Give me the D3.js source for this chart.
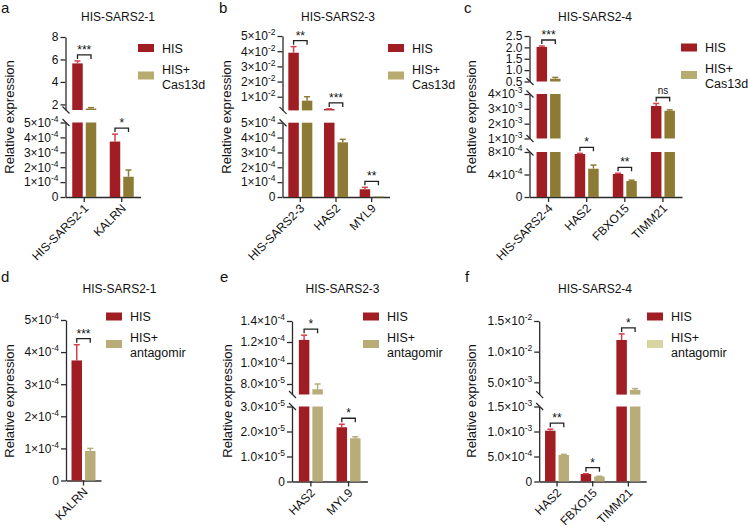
<!DOCTYPE html>
<html><head><meta charset="utf-8">
<script src="https://cdn.jsdelivr.net/npm/d3@7"></script>
<style>body{margin:0;background:#fff}</style>
</head><body>
<svg id="c" width="748" height="531"></svg>
<script>
// ---------------- DATA ----------------
const panelLetters = ["a","b","c","d","e","f"];
const panelTitles = ["HIS-SARS2-1","HIS-SARS2-3","HIS-SARS2-4","HIS-SARS2-1","HIS-SARS2-3","HIS-SARS2-4"];
const seriesNames = ["HIS", "HIS+", "Cas13d", "antagomir"];

// panel a
const catsA = ["HIS-SARS2-1","KALRN"];
const hisA = [5.65, 3.72e-4];
const hisErrA = [0.22, 0.5e-4];
const trtA = [1.63, 1.36e-4];
const trtErrA = [0.08, 0.45e-4];
const sigA = ["***","*"];
const domA = [[0,5e-4],[1.5,8]];
const ticksA = [[0,1e-4,2e-4,3e-4,4e-4,5e-4],[2,4,6,8]];
const tickLabelsA = [["0","1×10^-4","2×10^-4","3×10^-4","4×10^-4","5×10^-4"],["2","4","6","8"]];

// panel b
const catsB = ["HIS-SARS2-3","HAS2","MYL9"];
const hisB = [0.039, 0.0019, 0.52e-4];
const hisErrB = [0.004, 0.0001, 0.13e-4];
const trtB = [0.0074, 3.68e-4, 0.03e-4];
const trtErrB = [0.0026, 0.2e-4, 0];
const sigB = ["**","***","**"];
const domB = [[0,5e-4],[0.001,0.05]];
const ticksB = [[0,1e-4,2e-4,3e-4,4e-4,5e-4],[0.01,0.02,0.03,0.04,0.05]];
const tickLabelsB = [["0","1×10^-4","2×10^-4","3×10^-4","4×10^-4","5×10^-4"],["1×10^-2","2×10^-2","3×10^-2","4×10^-2","5×10^-2"]];

// panel c
const catsC = ["HIS-SARS2-4","HAS2","FBXO15","TIMM21"];
const hisC = [2.02, 7.64e-4, 4.09e-4, 3.19e-3];
const hisErrC = [0.04, 0.12e-4, 0.12e-4, 0.17e-3];
const trtC = [0.62, 5.03e-4, 2.84e-4, 2.87e-3];
const trtErrC = [0.06, 0.65e-4, 0.15e-4, 0.06e-3];
const sigC = ["***","*","**","ns"];
const domC = [[0,8e-4],[1e-3,4e-3],[0.5,2.5]];
const ticksC = [[0,4e-4,8e-4],[1e-3,2e-3,3e-3,4e-3],[0.5,1.0,1.5,2.0,2.5]];
const tickLabelsC = [["0","4×10^-4","8×10^-4"],["1×10^-3","2×10^-3","3×10^-3","4×10^-3"],["0.5","1.0","1.5","2.0","2.5"]];

// panel d
const catsD = ["KALRN"];
const hisD = [3.74e-4];
const hisErrD = [0.49e-4];
const trtD = [0.92e-4];
const trtErrD = [0.08e-4];
const sigD = ["***"];
const domD = [[0,5e-4]];
const ticksD = [[0,1e-4,2e-4,3e-4,4e-4,5e-4]];
const tickLabelsD = [["0","1×10^-4","2×10^-4","3×10^-4","4×10^-4","5×10^-4"]];

// panel e
const catsE = ["HAS2","MYL9"];
const hisE = [1.22e-4, 2.17e-5];
const hisErrE = [0.045e-4, 0.12e-5];
const trtE = [7.5e-5, 1.73e-5];
const trtErrE = [0.5e-5, 0.06e-5];
const sigE = ["*","*"];
const domE = [[0,3e-5],[7e-5,1.4e-4]];
const ticksE = [[0,1e-5,2e-5,3e-5],[8e-5,1.0e-4,1.2e-4,1.4e-4]];
const tickLabelsE = [["0","1.0×10^-5","2.0×10^-5","3.0×10^-5"],["8.0×10^-5","1.0×10^-4","1.2×10^-4","1.4×10^-4"]];

// panel f
const catsF = ["HAS2","FBXO15","TIMM21"];
const hisF = [1.016e-3, 1.5e-4, 1.19e-2];
const hisErrF = [0.03e-3, 0.06e-4, 0.1e-2];
const trtF = [5.3e-4, 1.0e-4, 3.75e-3];
const trtErrF = [0.12e-4, 0.05e-4, 0.22e-3];
const sigF = ["**","*","*"];
const domF = [[0,1.5e-3],[3e-3,1.5e-2]];
const ticksF = [[0,5e-4,1e-3,1.5e-3],[5e-3,1e-2,1.5e-2]];
const tickLabelsF = [["0","5.0×10^-4","1.0×10^-3","1.5×10^-3"],["5.0×10^-3","1.0×10^-2","1.5×10^-2"]];

// ---------------- STYLE ----------------
const FONT = "'Liberation Sans', Arial, Helvetica, sans-serif";
const AX = "#2b2b2b";
const RED = "#A11D24", RED_ERR = "#D5404C";
const OLIVE = "#8D7B35", OLIVE_LEG = "#B7AC6F";
const KHAKI = "#B8AC79", KHAKI_LEG = "#B8AC79", KHAKI_LEG_F = "#D8D5A2";

const svg = d3.select("#c");

function drawPanel(p) {
  const g = svg.append("g");
  g.append("text").attr("x", p.letterPos[0]).attr("y", p.letterPos[1])
    .attr("font-family", FONT).attr("font-size", 15).attr("fill", "#111").text(p.letter);
  g.append("text").attr("x", p.titlePos[0]).attr("y", p.titlePos[1]).attr("text-anchor","middle")
    .attr("font-family", FONT).attr("font-size", 12).attr("fill", "#111").text(p.title);
  g.append("text").attr("transform", `translate(${p.yTitlePos[0]},${p.yTitlePos[1]}) rotate(-90)`)
    .attr("text-anchor","middle").attr("font-family", FONT).attr("font-size", 13).attr("fill","#111")
    .text("Relative expression");

  const x = d3.scaleBand().domain(p.cats).range(p.xRange);
  const cx = c => x(c) + x.bandwidth()/2;
  const segs = p.doms.map((d,i) => ({
    lo: d[0], hi: d[1],
    y: d3.scaleLinear().domain(d).range(p.yRanges[i]),
    ticks: p.ticks[i], labels: p.tickLabels[i]
  }));
  const x0 = p.xRange[0];

  segs.forEach((s, i) => {
    const ax = d3.axisLeft(s.y).tickValues(s.ticks).tickSize(5).tickSizeOuter(0).tickPadding(2)
      .tickFormat((d,j) => s.labels[j]);
    const a = g.append("g").attr("transform", `translate(${x0},0)`).call(ax)
      .attr("font-size", null).attr("font-family", null);
    a.select(".domain").attr("stroke", AX).attr("stroke-width", 1.3);
    a.selectAll(".tick line").attr("stroke", AX).attr("stroke-width", 1.3);
    a.selectAll(".tick text").attr("font-family", FONT).attr("font-size", 12).attr("fill", "#111")
      .each(function() {
        const t = d3.select(this);
        const parts = t.text().split("^");
        t.text(parts[0]);
        if (parts[1]) t.append("tspan").attr("dy", -5).attr("font-size", 8.5).text(parts[1]);
      });
    const bx = x0 + 0.5;
    if (i > 0) g.append("line").attr("x1", bx-3.5).attr("y1", s.y.range()[0]-3.5)
      .attr("x2", bx+3.5).attr("y2", s.y.range()[0]+3.5).attr("stroke", AX).attr("stroke-width", 1.3);
    if (i < segs.length-1) g.append("line").attr("x1", bx-3.5).attr("y1", s.y.range()[1]-3.5)
      .attr("x2", bx+3.5).attr("y2", s.y.range()[1]+3.5).attr("stroke", AX).attr("stroke-width", 1.3);
  });

  const y0 = segs[0].y(0);
  const xa = g.append("g").attr("transform", `translate(0,${y0})`)
    .call(d3.axisBottom(x).tickSize(5).tickSizeOuter(0).tickFormat(d => d))
    .attr("font-size", null).attr("font-family", null);
  xa.select(".domain").attr("stroke", AX).attr("stroke-width", 1.3);
  xa.selectAll(".tick line").attr("stroke", AX).attr("stroke-width", 1.3);
  xa.selectAll(".tick text").attr("font-family", FONT).attr("font-size", 12).attr("fill","#111")
    .attr("x", 0).attr("y", 0).attr("dy", null).attr("text-anchor","end")
    .attr("transform", "translate(5,12) rotate(-45)");

  const BW = 10.5, GAP = 1.5;
  const series = [
    {vals: p.his, errs: p.hisErr, fill: RED, err: RED_ERR, off: -GAP-BW},
    {vals: p.trt, errs: p.trtErr, fill: p.trtColor, err: p.trtColor, off: GAP}
  ];
  const tops = p.cats.map(() => Infinity);
  series.forEach(ser => {
    p.cats.forEach((c, i) => {
      const v = ser.vals[i], e = ser.errs[i];
      const bx = cx(c) + ser.off;
      segs.forEach(s => {
        if (v > s.lo) {
          const yt = s.y(Math.min(v, s.hi)), yb = s.y(s.lo);
          g.append("rect").attr("x", bx).attr("width", BW).attr("y", yt)
            .attr("height", Math.max(yb - yt, 0.8)).attr("fill", ser.fill);
        }
      });
      let s = segs.find((sg, k) => v >= sg.lo && (v <= sg.hi || k === segs.length-1));
      if (!s) s = segs[0];
      const yv = s.y(v), ye = s.y(v + e);
      if (e > 0) {
        g.append("line").attr("x1", bx+BW/2).attr("x2", bx+BW/2).attr("y1", yv).attr("y2", ye)
          .attr("stroke", ser.err).attr("stroke-width", 1.5);
        g.append("line").attr("x1", bx+BW/2-3).attr("x2", bx+BW/2+3).attr("y1", ye).attr("y2", ye)
          .attr("stroke", ser.err).attr("stroke-width", 1.5);
      }
      tops[i] = Math.min(tops[i], ye, yv);
    });
  });

  p.cats.forEach((c, i) => {
    const yb = tops[i] - 6;
    const xl = cx(c) - GAP - BW/2, xr = cx(c) + GAP + BW/2;
    g.append("path").attr("d", `M${xl},${yb+4}V${yb}H${xr}V${yb+4}`)
      .attr("fill","none").attr("stroke","#222").attr("stroke-width",1.3);
    g.append("text").attr("x", (xl+xr)/2).attr("y", p.sig[i] === "ns" ? yb-3 : yb-1)
      .attr("text-anchor","middle").attr("font-family", FONT)
      .attr("font-size", p.sig[i] === "ns" ? 10 : 12).attr("fill","#111").text(p.sig[i]);
  });

  const [lx, ly] = p.legendPos;
  g.append("rect").attr("x", lx).attr("y", ly).attr("width", 16).attr("height", 8).attr("fill", RED);
  g.append("text").attr("x", lx+24).attr("y", ly+8.5).attr("font-family", FONT).attr("font-size", 12.5)
    .attr("fill","#111").text(seriesNames[0]);
  g.append("rect").attr("x", lx).attr("y", ly+27.5).attr("width", 16).attr("height", 8).attr("fill", p.legColor);
  g.append("text").attr("x", lx+24).attr("y", ly+29.5).attr("font-family", FONT).attr("font-size", 12.5)
    .attr("fill","#111").text(seriesNames[1]);
  g.append("text").attr("x", lx+24).attr("y", ly+44.5).attr("font-family", FONT).attr("font-size", 12.5)
    .attr("fill","#111").text(p.trtName);
}

const panels = [
  {letter: panelLetters[0], title: panelTitles[0], letterPos:[1,13], titlePos:[118,21], yTitlePos:[14,117],
   cats: catsA, his: hisA, hisErr: hisErrA, trt: trtA, trtErr: trtErrA, sig: sigA,
   doms: domA, ticks: ticksA, tickLabels: tickLabelsA,
   xRange:[65.5,140.5], yRanges:[[197,122.5],[110,37]],
   legendPos:[138,44], trtColor: OLIVE, legColor: OLIVE_LEG, trtName: seriesNames[2]},
  {letter: panelLetters[1], title: panelTitles[1], letterPos:[219,13], titlePos:[338,21], yTitlePos:[231,117],
   cats: catsB, his: hisB, hisErr: hisErrB, trt: trtB, trtErr: trtErrB, sig: sigB,
   doms: domB, ticks: ticksB, tickLabels: tickLabelsB,
   xRange:[282.5,389.5], yRanges:[[197,122.7],[110.4,36]],
   legendPos:[388,44], trtColor: OLIVE, legColor: OLIVE_LEG, trtName: seriesNames[2]},
  {letter: panelLetters[2], title: panelTitles[2], letterPos:[464,13], titlePos:[595,21], yTitlePos:[476,117],
   cats: catsC, his: hisC, hisErr: hisErrC, trt: trtC, trtErr: trtErrC, sig: sigC,
   doms: domC, ticks: ticksC, tickLabels: tickLabelsC,
   xRange:[529.5,682], yRanges:[[197,152],[138.5,94],[81.5,36]],
   legendPos:[681,43.5], trtColor: OLIVE, legColor: OLIVE_LEG, trtName: seriesNames[2]},
  {letter: panelLetters[3], title: panelTitles[3], letterPos:[1,282], titlePos:[119.5,293], yTitlePos:[14,401],
   cats: catsD, his: hisD, hisErr: hisErrD, trt: trtD, trtErr: trtErrD, sig: sigD,
   doms: domD, ticks: ticksD, tickLabels: tickLabelsD,
   xRange:[66,101], yRanges:[[480.5,320]],
   legendPos:[106,312.5], trtColor: KHAKI, legColor: KHAKI_LEG, trtName: seriesNames[3]},
  {letter: panelLetters[4], title: panelTitles[4], letterPos:[220,282], titlePos:[342.5,293], yTitlePos:[232,401],
   cats: catsE, his: hisE, hisErr: hisErrE, trt: trtE, trtErr: trtErrE, sig: sigE,
   doms: domE, ticks: ticksE, tickLabels: tickLabelsE,
   xRange:[292,367.4], yRanges:[[481.5,406.5],[394.5,321]],
   legendPos:[363,312.5], trtColor: KHAKI, legColor: KHAKI_LEG, trtName: seriesNames[3]},
  {letter: panelLetters[5], title: panelTitles[5], letterPos:[465,282], titlePos:[595,293], yTitlePos:[476,401],
   cats: catsF, his: hisF, hisErr: hisErrF, trt: trtF, trtErr: trtErrF, sig: sigF,
   doms: domF, ticks: ticksF, tickLabels: tickLabelsF,
   xRange:[539.2,646.2], yRanges:[[481.5,406.5],[394.6,321]],
   legendPos:[647,312.5], trtColor: KHAKI, legColor: KHAKI_LEG_F, trtName: seriesNames[3]}
];
panels.forEach(drawPanel);
</script>
</body></html>
